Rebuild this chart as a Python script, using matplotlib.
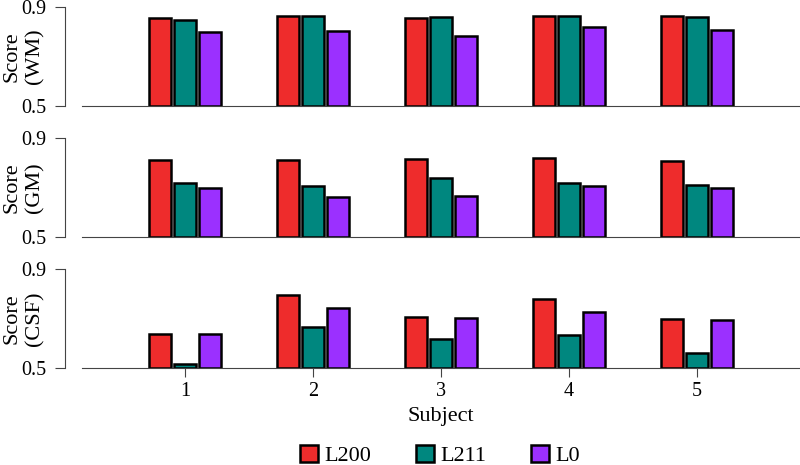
import numpy as np
import matplotlib
matplotlib.use("Agg")
import matplotlib.pyplot as plt

plt.rcParams["font.family"] = ["Liberation Serif", "DejaVu Serif"]
plt.rcParams["font.size"] = 16

subjects = [1, 2, 3, 4, 5]
methods = ["L200", "L211", "L0"]
colors = ["#ee2c2c", "#00877f", "#9b30ff"]
panels = ["WM", "GM", "CSF"]

wm_l200 = [0.857, 0.865, 0.857, 0.862, 0.862]
wm_l211 = [0.847, 0.864, 0.861, 0.862, 0.861]
wm_l0 = [0.798, 0.802, 0.784, 0.819, 0.807]

gm_l200 = [0.813, 0.811, 0.816, 0.819, 0.809]
gm_l211 = [0.718, 0.706, 0.740, 0.718, 0.710]
gm_l0 = [0.698, 0.662, 0.667, 0.706, 0.698]

csf_l200 = [0.638, 0.795, 0.707, 0.779, 0.698]
csf_l211 = [0.514, 0.665, 0.618, 0.634, 0.559]
csf_l0 = [0.636, 0.744, 0.702, 0.728, 0.696]

scores = {
    "WM": [wm_l200, wm_l211, wm_l0],
    "GM": [gm_l200, gm_l211, gm_l0],
    "CSF": [csf_l200, csf_l211, csf_l0],
}

fig = plt.figure(figsize=(8, 4.65), dpi=100)
boxes = [(0.1025, 0.772, 0.8975, 0.213),
         (0.1025, 0.491, 0.8975, 0.212),
         (0.1025, 0.209, 0.8975, 0.212)]

x = np.array(subjects)
offsets = [-0.195, 0.0, 0.195]
spine_col = "#444444"

handles = []
for i, name in enumerate(panels):
    ax = fig.add_axes(boxes[i])
    for j, m in enumerate(methods):
        vals = np.array(scores[name][j])
        b = ax.bar(x + offsets[j], vals - 0.5, bottom=0.5, width=0.175,
                   color=colors[j], edgecolor="black", linewidth=1.8,
                   label=m)
        if i == 0:
            handles.append(b)
    ax.set_ylim(0.5, 0.9)
    ax.set_xlim(0.195, 5.805)
    ax.set_yticks([0.5, 0.9])
    ax.set_yticklabels(["0.5", "0.9"])
    ax.spines["top"].set_visible(False)
    ax.spines["right"].set_visible(False)
    ax.spines["left"].set_position(("outward", 12))
    ax.spines["left"].set_color(spine_col)
    ax.spines["bottom"].set_color(spine_col)
    ax.tick_params(axis="y", color=spine_col, length=7, pad=7, labelsize=14.5)
    ax.set_ylabel("Score\n(%s)" % name, linespacing=1.25)
    ax.yaxis.set_label_coords(-0.052, 0.5)
    if i < 2:
        ax.set_xticks([])
    else:
        ax.set_xticks(subjects)
        ax.tick_params(axis="x", color=spine_col, length=6.5, pad=4,
                       labelsize=14.5)
        ax.set_xlabel("Subject", labelpad=4)

fig.legend(handles, methods, loc="center", bbox_to_anchor=(0.55, 0.02),
           ncol=3, frameon=False, handlelength=0.8, handleheight=0.8,
           handletextpad=0.3, columnspacing=2.0, borderpad=0.1)

fig.savefig("out.png", dpi=100)
